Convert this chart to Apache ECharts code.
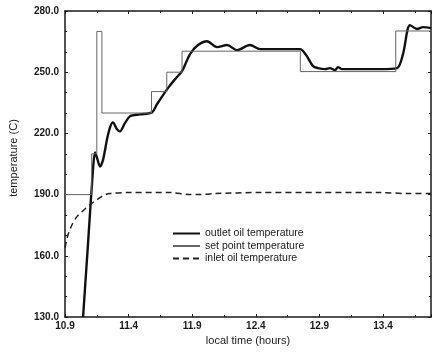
<!DOCTYPE html>
<html>
<head>
<meta charset="utf-8">
<script src="https://cdn.jsdelivr.net/npm/echarts@6/dist/echarts.min.js"></script>
<style>html,body{margin:0;padding:0;background:#fff}#c{width:432px;height:352px}</style>
</head>
<body>
<div id="c"></div>
<script>
var seriesNames = ['outlet oil temperature', 'set point temperature', 'inlet oil temperature'];
var xTicks = [10.9, 11.4, 11.9, 12.4, 12.9, 13.4];
var yTicks = [130, 160, 190, 220, 250, 280];

var outletTime = [11.042, 11.081, 11.120, 11.136, 11.152, 11.175, 11.199, 11.230, 11.254, 11.277, 11.309, 11.332, 11.371, 11.411, 11.490, 11.584, 11.623, 11.702, 11.765, 11.820, 11.883, 11.946, 12.016, 12.095, 12.174, 12.252, 12.354, 12.433, 12.590, 12.747, 12.795, 12.850, 12.889, 12.944, 12.983, 13.023, 13.046, 13.078, 13.219, 13.376, 13.510, 13.557, 13.612, 13.667, 13.714, 13.777];
var outletTemp = [130, 166, 202.3, 210.7, 208, 203.8, 207, 217, 223, 225.4, 222, 221, 225, 228.4, 229.3, 230.3, 234.3, 241.6, 246.6, 250.5, 258.9, 263.3, 265.2, 262.3, 263.3, 260.8, 263.3, 261.3, 261.3, 261.3, 258.4, 253, 252, 251.5, 252, 251, 252.5, 251.5, 251.5, 251.5, 252, 258.9, 273.1, 271.2, 272.1, 271.6];

var setTime = [10.9, 11.11, 11.15, 11.19, 11.58, 11.70, 11.82, 12.75, 13.50, 13.777];
var setTemp = [190, 210, 270, 230, 240.5, 250, 260.3, 250.3, 270.2, 270.2];

var inletTime = [10.9, 10.924, 10.955, 10.994, 11.042, 11.097, 11.152, 11.199, 11.254, 11.411, 11.725, 11.883, 11.961, 12.079, 12.433, 12.905, 13.376, 13.612, 13.777];
var inletTemp = [164, 170.3, 175.2, 179.2, 182.1, 185.1, 187.5, 189.5, 190.5, 191, 191, 190, 190, 190.5, 191, 191, 191, 190.5, 190.5];

function zip(a, b) { return a.map(function (v, i) { return [v, b[i]]; }); }

var ink = '#1a1a1a';
var font = 'Liberation Sans';
var chart = echarts.init(document.getElementById('c'), null, {renderer: 'canvas'});
var xBase = {
  type: 'value', min: 10.9, max: 13.777, interval: 0.5,
  axisLine: {show: true, lineStyle: {color: ink, width: 1.5}},
  axisTick: {show: true, inside: true, length: 3, lineStyle: {color: ink}},
  minorTick: {show: true, splitNumber: 2, length: 2, lineStyle: {color: ink}},
  splitLine: {show: false}
};
var yBase = {
  type: 'value', min: 130, max: 280, interval: 30,
  axisLine: {show: true, lineStyle: {color: ink, width: 1.5}},
  axisTick: {show: true, inside: true, length: 3, lineStyle: {color: ink}},
  minorTick: {show: true, splitNumber: 3, length: 2, lineStyle: {color: ink}},
  splitLine: {show: false}
};
chart.setOption({
  animation: false,
  backgroundColor: '#fff',
  grid: {left: 65, right: 1, top: 11, bottom: 35},
  legend: {
    orient: 'vertical', left: 167, top: 223, itemWidth: 27, itemHeight: 8, itemGap: 1.5,
    itemStyle: {opacity: 0},
    textStyle: {fontFamily: font, fontSize: 10.5, color: ink},
    data: seriesNames
  },
  xAxis: [
    Object.assign({}, xBase, {
      position: 'bottom',
      name: 'local time (hours)', nameLocation: 'middle', nameGap: 17,
      nameTextStyle: {fontFamily: font, fontSize: 11, color: ink},
      axisLabel: {show: true, showMaxLabel: false, margin: 4, fontFamily: font, fontSize: 10, fontWeight: 'bold', color: ink,
        formatter: function (v) { return v.toFixed(1); }}
    }),
    Object.assign({}, xBase, {position: 'top', axisLabel: {show: false}})
  ],
  yAxis: [
    Object.assign({}, yBase, {
      position: 'left',
      name: 'temperature (C)', nameLocation: 'middle', nameGap: 46,
      nameTextStyle: {fontFamily: font, fontSize: 11, color: ink, padding: [0, 0, 0, 12]},
      axisLabel: {show: true, margin: 6, fontFamily: font, fontSize: 10, fontWeight: 'bold', color: ink,
        formatter: function (v) { return v.toFixed(1); }}
    }),
    Object.assign({}, yBase, {position: 'right', axisLabel: {show: false}})
  ],
  series: [
    {
      name: seriesNames[0], type: 'line', data: zip(outletTime, outletTemp),
      smooth: 0.3, symbol: 'none', lineStyle: {color: '#111', width: 2.4}, itemStyle: {color: '#111'}
    },
    {
      name: seriesNames[1], type: 'line', data: zip(setTime, setTemp), step: 'end',
      symbol: 'none', lineStyle: {color: '#666', width: 1}, itemStyle: {color: '#666'}
    },
    {
      name: seriesNames[2], type: 'line', data: zip(inletTime, inletTemp),
      smooth: 0.3, symbol: 'none', lineStyle: {color: '#222', width: 1.5, type: [6, 4]}, itemStyle: {color: '#222'}
    }
  ]
});
</script>
</body>
</html>
